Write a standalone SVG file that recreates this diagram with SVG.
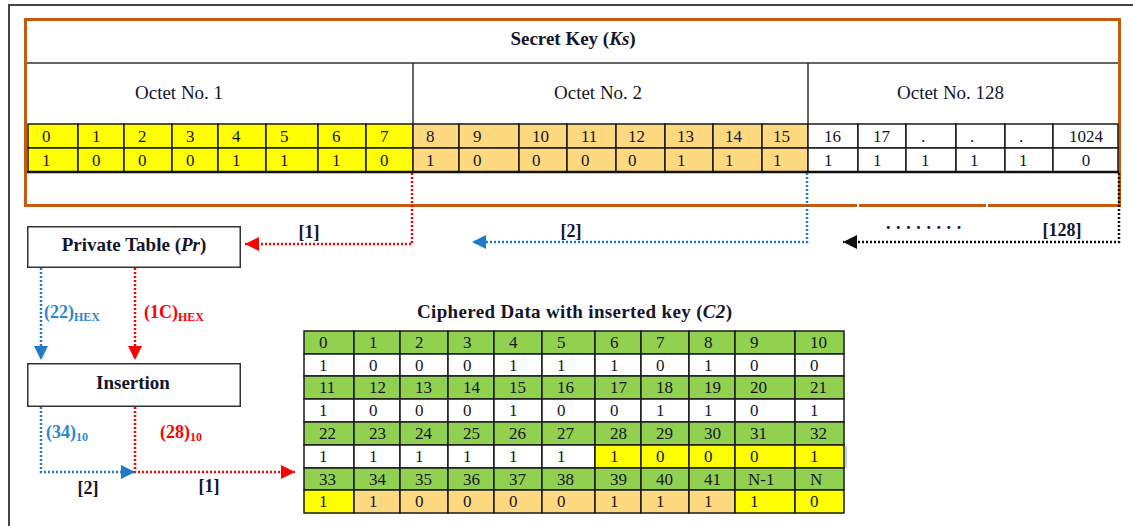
<svg xmlns="http://www.w3.org/2000/svg" width="1133" height="526" viewBox="0 0 1133 526">
<style>
text{font-family:"Liberation Serif","Times New Roman",serif;fill:#15152a}
.hd{font-size:19px}
.b{font-weight:bold}
.c{font-size:17px}
.lb{font-size:18px;font-weight:bold}
.red{fill:#FF0000}
.blu{fill:#2E86CB}
.mid{text-anchor:middle}
.cell rect{stroke:#1a1a1a;stroke-width:1.5}
.y{fill:#FFFF00}.o{fill:#FFD97F}.g{fill:#92D050}.w{fill:#FFFFFF}
.dr{fill:none;stroke:#FF0000;stroke-width:2.5;stroke-dasharray:2 2}
.db{fill:none;stroke:#1F7AC8;stroke-width:2.5;stroke-dasharray:2 2}
.dk{fill:none;stroke:#111;stroke-width:2.5;stroke-dasharray:2 2}
.box{fill:#fff;stroke:#333;stroke-width:1.5}
.rule{stroke:#333;stroke-width:1.5}
</style>
<defs>
<marker id="ar" markerUnits="userSpaceOnUse" markerWidth="15" markerHeight="14" refX="14" refY="7" orient="auto"><path d="M0,0 L14,7 L0,14 z" fill="#FF0000"/></marker>
<marker id="ab" markerUnits="userSpaceOnUse" markerWidth="15" markerHeight="14" refX="14" refY="7" orient="auto"><path d="M0,0 L14,7 L0,14 z" fill="#1F7AC8"/></marker>
<marker id="ak" markerUnits="userSpaceOnUse" markerWidth="15" markerHeight="14" refX="14" refY="7" orient="auto"><path d="M0,0 L14,7 L0,14 z" fill="#111"/></marker>
</defs>
<rect width="1133" height="526" fill="#fff"/>
<path d="M9,526 V5 H1133" fill="none" stroke="#444" stroke-width="2"/>

<g id="secret-key">
<rect x="25.5" y="19.5" width="1094" height="186" fill="#fff" stroke="#C55A11" stroke-width="3"/>
<line x1="857" y1="205.5" x2="859" y2="205.5" stroke="#fff" stroke-width="3"/>
<line x1="986" y1="205.5" x2="988" y2="205.5" stroke="#fff" stroke-width="3"/>
<text x="573" y="45" class="hd b mid">Secret Key (<tspan font-style="italic">Ks</tspan>)</text>
<line x1="27" y1="63" x2="1118" y2="63" class="rule"/>
<line x1="413" y1="63" x2="413" y2="124" class="rule"/>
<line x1="808" y1="63" x2="808" y2="124" class="rule"/>
<text x="135" y="99" class="hd">Octet No. 1</text>
<text x="554" y="99" class="hd">Octet No. 2</text>
<text x="897" y="99" class="hd">Octet No. 128</text>
<g class="cell">
<rect x="28" y="124" width="50" height="24" class="y"/><rect x="78" y="124" width="46" height="24" class="y"/><rect x="124" y="124" width="48" height="24" class="y"/><rect x="172" y="124" width="46" height="24" class="y"/><rect x="218" y="124" width="48" height="24" class="y"/><rect x="266" y="124" width="52" height="24" class="y"/><rect x="318" y="124" width="48" height="24" class="y"/><rect x="366" y="124" width="47" height="24" class="y"/>
<rect x="28" y="148" width="50" height="24" class="y"/><rect x="78" y="148" width="46" height="24" class="y"/><rect x="124" y="148" width="48" height="24" class="y"/><rect x="172" y="148" width="46" height="24" class="y"/><rect x="218" y="148" width="48" height="24" class="y"/><rect x="266" y="148" width="52" height="24" class="y"/><rect x="318" y="148" width="48" height="24" class="y"/><rect x="366" y="148" width="47" height="24" class="y"/>
<rect x="413" y="124" width="46" height="24" class="o"/><rect x="459" y="124" width="60" height="24" class="o"/><rect x="519" y="124" width="48" height="24" class="o"/><rect x="567" y="124" width="49" height="24" class="o"/><rect x="616" y="124" width="49" height="24" class="o"/><rect x="665" y="124" width="48" height="24" class="o"/><rect x="713" y="124" width="49" height="24" class="o"/><rect x="762" y="124" width="46" height="24" class="o"/>
<rect x="413" y="148" width="46" height="24" class="o"/><rect x="459" y="148" width="60" height="24" class="o"/><rect x="519" y="148" width="48" height="24" class="o"/><rect x="567" y="148" width="49" height="24" class="o"/><rect x="616" y="148" width="49" height="24" class="o"/><rect x="665" y="148" width="48" height="24" class="o"/><rect x="713" y="148" width="49" height="24" class="o"/><rect x="762" y="148" width="46" height="24" class="o"/>
<rect x="808" y="124" width="50" height="24" class="w"/><rect x="858" y="124" width="48" height="24" class="w"/><rect x="906" y="124" width="50" height="24" class="w"/><rect x="956" y="124" width="49" height="24" class="w"/><rect x="1005" y="124" width="48" height="24" class="w"/><rect x="1053" y="124" width="65" height="24" class="w"/>
<rect x="808" y="148" width="50" height="24" class="w"/><rect x="858" y="148" width="48" height="24" class="w"/><rect x="906" y="148" width="50" height="24" class="w"/><rect x="956" y="148" width="49" height="24" class="w"/><rect x="1005" y="148" width="48" height="24" class="w"/><rect x="1053" y="148" width="65" height="24" class="w"/>
</g>
<line x1="27" y1="172" x2="1119" y2="172" stroke="#111" stroke-width="2.5"/>
<g class="c red">
<text x="42" y="142">0</text><text x="92" y="142">1</text><text x="138" y="142">2</text><text x="186" y="142">3</text><text x="232" y="142">4</text><text x="280" y="142">5</text><text x="332" y="142">6</text><text x="380" y="142">7</text>
<text x="42" y="166">1</text><text x="92" y="166">0</text><text x="138" y="166">0</text><text x="186" y="166">0</text><text x="232" y="166">1</text><text x="280" y="166">1</text><text x="332" y="166">1</text><text x="380" y="166">0</text>
</g>
<g class="c">
<text x="426" y="142">8</text><text x="473" y="142">9</text><text x="532" y="142">10</text><text x="581" y="142">11</text><text x="628" y="142">12</text><text x="677" y="142">13</text><text x="725" y="142">14</text><text x="773" y="142">15</text>
<text x="426" y="166">1</text><text x="473" y="166">0</text><text x="532" y="166">0</text><text x="581" y="166">0</text><text x="628" y="166">0</text><text x="677" y="166">1</text><text x="725" y="166">1</text><text x="773" y="166">1</text>
<text x="824" y="142">16</text><text x="873" y="142">17</text><text x="921" y="142">.</text><text x="970" y="142">.</text><text x="1019" y="142">.</text><text x="1086" y="142" class="mid">1024</text>
<text x="824" y="166">1</text><text x="873" y="166">1</text><text x="921" y="166">1</text><text x="970" y="166">1</text><text x="1019" y="166">1</text><text x="1086" y="166" class="mid">0</text>
</g>
</g>

<g id="private-table">
<rect x="27.75" y="226.75" width="212.5" height="40.5" class="box"/>
<text x="134" y="251" class="hd b mid">Private Table (<tspan font-style="italic">Pr</tspan>)</text>
</g>

<g id="insertion">
<rect x="27.75" y="363.75" width="212.5" height="42.5" class="box"/>
<text x="133" y="389" class="hd b mid">Insertion</text>
</g>

<g id="ciphered-data">
<text x="417" y="318" class="hd b" textLength="315" lengthAdjust="spacing">Ciphered Data with inserted key (<tspan font-style="italic">C2</tspan>)</text>
<g class="cell">
<rect x="304" y="331" width="50" height="23" class="g"/><rect x="354" y="331" width="46" height="23" class="g"/><rect x="400" y="331" width="48" height="23" class="g"/><rect x="448" y="331" width="46" height="23" class="g"/><rect x="494" y="331" width="48" height="23" class="g"/><rect x="542" y="331" width="53" height="23" class="g"/><rect x="595" y="331" width="46" height="23" class="g"/><rect x="641" y="331" width="48" height="23" class="g"/><rect x="689" y="331" width="46" height="23" class="g"/><rect x="735" y="331" width="60" height="23" class="g"/><rect x="795" y="331" width="49" height="23" class="g"/>
<rect x="304" y="354" width="50" height="22" class="w"/><rect x="354" y="354" width="46" height="22" class="w"/><rect x="400" y="354" width="48" height="22" class="w"/><rect x="448" y="354" width="46" height="22" class="w"/><rect x="494" y="354" width="48" height="22" class="w"/><rect x="542" y="354" width="53" height="22" class="w"/><rect x="595" y="354" width="46" height="22" class="w"/><rect x="641" y="354" width="48" height="22" class="w"/><rect x="689" y="354" width="46" height="22" class="w"/><rect x="735" y="354" width="60" height="22" class="w"/><rect x="795" y="354" width="49" height="22" class="w"/>
<rect x="304" y="376" width="50" height="23" class="g"/><rect x="354" y="376" width="46" height="23" class="g"/><rect x="400" y="376" width="48" height="23" class="g"/><rect x="448" y="376" width="46" height="23" class="g"/><rect x="494" y="376" width="48" height="23" class="g"/><rect x="542" y="376" width="53" height="23" class="g"/><rect x="595" y="376" width="46" height="23" class="g"/><rect x="641" y="376" width="48" height="23" class="g"/><rect x="689" y="376" width="46" height="23" class="g"/><rect x="735" y="376" width="60" height="23" class="g"/><rect x="795" y="376" width="49" height="23" class="g"/>
<rect x="304" y="399" width="50" height="23" class="w"/><rect x="354" y="399" width="46" height="23" class="w"/><rect x="400" y="399" width="48" height="23" class="w"/><rect x="448" y="399" width="46" height="23" class="w"/><rect x="494" y="399" width="48" height="23" class="w"/><rect x="542" y="399" width="53" height="23" class="w"/><rect x="595" y="399" width="46" height="23" class="w"/><rect x="641" y="399" width="48" height="23" class="w"/><rect x="689" y="399" width="46" height="23" class="w"/><rect x="735" y="399" width="60" height="23" class="w"/><rect x="795" y="399" width="49" height="23" class="w"/>
<rect x="304" y="422" width="50" height="23" class="g"/><rect x="354" y="422" width="46" height="23" class="g"/><rect x="400" y="422" width="48" height="23" class="g"/><rect x="448" y="422" width="46" height="23" class="g"/><rect x="494" y="422" width="48" height="23" class="g"/><rect x="542" y="422" width="53" height="23" class="g"/><rect x="595" y="422" width="46" height="23" class="g"/><rect x="641" y="422" width="48" height="23" class="g"/><rect x="689" y="422" width="46" height="23" class="g"/><rect x="735" y="422" width="60" height="23" class="g"/><rect x="795" y="422" width="49" height="23" class="g"/>
<rect x="304" y="445" width="50" height="23" class="w"/><rect x="354" y="445" width="46" height="23" class="w"/><rect x="400" y="445" width="48" height="23" class="w"/><rect x="448" y="445" width="46" height="23" class="w"/><rect x="494" y="445" width="48" height="23" class="w"/><rect x="542" y="445" width="53" height="23" class="w"/><rect x="595" y="445" width="46" height="23" class="y"/><rect x="641" y="445" width="48" height="23" class="y"/><rect x="689" y="445" width="46" height="23" class="y"/><rect x="735" y="445" width="60" height="23" class="y"/><rect x="795" y="445" width="49" height="23" class="y"/>
<rect x="304" y="468" width="50" height="22" class="g"/><rect x="354" y="468" width="46" height="22" class="g"/><rect x="400" y="468" width="48" height="22" class="g"/><rect x="448" y="468" width="46" height="22" class="g"/><rect x="494" y="468" width="48" height="22" class="g"/><rect x="542" y="468" width="53" height="22" class="g"/><rect x="595" y="468" width="46" height="22" class="g"/><rect x="641" y="468" width="48" height="22" class="g"/><rect x="689" y="468" width="46" height="22" class="g"/><rect x="735" y="468" width="60" height="22" class="g"/><rect x="795" y="468" width="49" height="22" class="g"/>
<rect x="304" y="490" width="50" height="23" class="y"/><rect x="354" y="490" width="46" height="23" class="o"/><rect x="400" y="490" width="48" height="23" class="o"/><rect x="448" y="490" width="46" height="23" class="o"/><rect x="494" y="490" width="48" height="23" class="o"/><rect x="542" y="490" width="53" height="23" class="o"/><rect x="595" y="490" width="46" height="23" class="o"/><rect x="641" y="490" width="48" height="23" class="o"/><rect x="689" y="490" width="46" height="23" class="o"/><rect x="735" y="490" width="60" height="23" class="y"/><rect x="795" y="490" width="49" height="23" class="y"/>
</g>
<rect x="845" y="446" width="2" height="22" fill="#BDD7EE"/>
<g class="c">
<text x="319" y="348">0</text><text x="369" y="348">1</text><text x="415" y="348">2</text><text x="463" y="348">3</text><text x="509" y="348">4</text><text x="557" y="348">5</text><text x="610" y="348">6</text><text x="656" y="348">7</text><text x="704" y="348">8</text><text x="750" y="348">9</text><text x="810" y="348">10</text>
<text x="319" y="371">1</text><text x="369" y="371">0</text><text x="415" y="371">0</text><text x="463" y="371">0</text><text x="509" y="371">1</text><text x="557" y="371">1</text><text x="610" y="371">1</text><text x="656" y="371">0</text><text x="704" y="371">1</text><text x="750" y="371">0</text><text x="810" y="371">0</text>
<text x="319" y="393">11</text><text x="369" y="393">12</text><text x="415" y="393">13</text><text x="463" y="393">14</text><text x="509" y="393">15</text><text x="557" y="393">16</text><text x="610" y="393">17</text><text x="656" y="393">18</text><text x="704" y="393">19</text><text x="750" y="393">20</text><text x="810" y="393">21</text>
<text x="319" y="416">1</text><text x="369" y="416">0</text><text x="415" y="416">0</text><text x="463" y="416">0</text><text x="509" y="416">1</text><text x="557" y="416">0</text><text x="610" y="416">0</text><text x="656" y="416">1</text><text x="704" y="416">1</text><text x="750" y="416">0</text><text x="810" y="416">1</text>
<text x="319" y="439">22</text><text x="369" y="439">23</text><text x="415" y="439">24</text><text x="463" y="439">25</text><text x="509" y="439">26</text><text x="557" y="439">27</text><text x="610" y="439">28</text><text x="656" y="439">29</text><text x="704" y="439">30</text><text x="750" y="439">31</text><text x="810" y="439">32</text>
<text x="319" y="462">1</text><text x="369" y="462">1</text><text x="415" y="462">1</text><text x="463" y="462">1</text><text x="509" y="462">1</text><text x="557" y="462">1</text><text x="610" y="462">1</text><text x="656" y="462">0</text><text x="704" y="462">0</text><text x="750" y="462">0</text><text x="810" y="462">1</text>
<text x="319" y="485">33</text><text x="369" y="485">34</text><text x="415" y="485">35</text><text x="463" y="485">36</text><text x="509" y="485">37</text><text x="557" y="485">38</text><text x="610" y="485">39</text><text x="656" y="485">40</text><text x="704" y="485">41</text><text x="748" y="485">N-1</text><text x="810" y="485">N</text>
<text x="319" y="507">1</text><text x="369" y="507">1</text><text x="415" y="507">0</text><text x="463" y="507">0</text><text x="509" y="507">0</text><text x="557" y="507">0</text><text x="610" y="507">1</text><text x="656" y="507">1</text><text x="704" y="507">1</text><text x="750" y="507">1</text><text x="810" y="507">0</text>
</g>
</g>

<g id="connectors">
<path d="M412,173 V244 H245" class="dr" marker-end="url(#ar)"/>
<path d="M807,173 V242 H472" class="db" marker-end="url(#ab)"/>
<path d="M1119,173 V242 H843" class="dk" marker-end="url(#ak)"/>
<path d="M41,268 V360" class="db" marker-end="url(#ab)"/>
<path d="M135,268 V360" class="dr" marker-end="url(#ar)"/>
<path d="M41,407 V472 H135" class="db" marker-end="url(#ab)"/>
<path d="M135,407 V472 H295" class="dr" marker-end="url(#ar)"/>
<text x="309" y="238" class="lb mid">[1]</text>
<text x="571" y="237" class="lb mid">[2]</text>
<text x="886" y="229" class="lb" letter-spacing="5.6">........</text>
<text x="1062" y="236" class="lb mid">[128]</text>
<text x="44" y="318" class="lb blu">(22)<tspan font-size="12" dy="3">HEX</tspan></text>
<text x="144" y="318" class="lb red">(1C)<tspan font-size="12" dy="3">HEX</tspan></text>
<text x="46" y="438" class="lb blu">(34)<tspan font-size="12" dy="3">10</tspan></text>
<text x="160" y="438" class="lb red">(28)<tspan font-size="12" dy="3">10</tspan></text>
<text x="88" y="494" class="lb mid">[2]</text>
<text x="209" y="492" class="lb mid">[1]</text>
</g>
</svg>
